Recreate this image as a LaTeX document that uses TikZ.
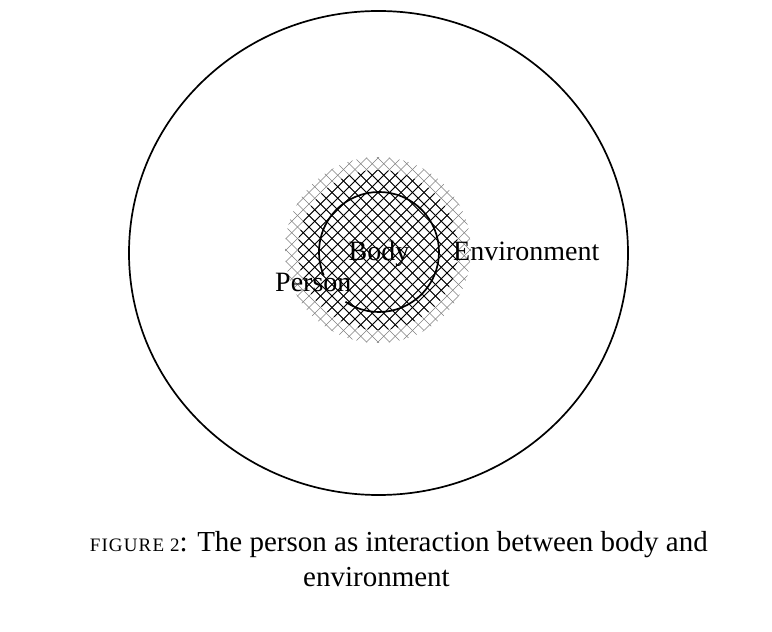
\documentclass[tikz,border=0pt]{standalone}
\usepackage{fontspec}
\setmainfont{Liberation Serif}
\begin{document}
\begin{tikzpicture}[x=1pt,y=1pt,
  lbl/.style={inner sep=0pt, font=\fontsize{28}{30}\selectfont},
  captext/.style={inner sep=0pt, font=\fontsize{29}{31}\selectfont},
  hatchline/.style={line width=0.8pt, black},
  fadeline/.style={line width=0.5pt, black!50},
  ring/.style={line width=1.7pt}]
\useasboundingbox (0,0) rectangle (772,632);
% outer environment
\draw[ring] (378.5,379) ellipse [x radius=249.5, y radius=242];
% faded hatch edge
\begin{scope}
  \clip (378,382) circle (93);
  \foreach \k in {-20,...,20} {
    \draw[fadeline] ({378+\k*11.5-115},{382-115}) -- ({378+\k*11.5+115},{382+115});
    \draw[fadeline] ({378+\k*11.5-115},{382+115}) -- ({378+\k*11.5+115},{382-115});
  }
\end{scope}
% dense hatch
\begin{scope}
  \clip (378,382) circle (80);
  \foreach \k in {-20,...,20} {
    \draw[hatchline] ({378+\k*11.5-115},{382-115}) -- ({378+\k*11.5+115},{382+115});
    \draw[hatchline] ({378+\k*11.5-115},{382+115}) -- ({378+\k*11.5+115},{382-115});
  }
\end{scope}
% body circle with gap at Person
\draw[ring] ({379+60*cos(236)},{380+60*sin(236)}) arc[start angle=236, end angle=563, radius=60];
% labels
\node[lbl, anchor=base] (body) at (379,371) {Body};
\node[lbl, anchor=base west] (env) at (453,371) {Environment};
\node[lbl, anchor=base west] (person) at (275,340) {Person};
% caption
\node[captext, anchor=base east] (cap1) at (708,80) {{\fontsize{19}{21}\selectfont\addfontfeature{LetterSpace=6}FIGURE 2}: The person as interaction between body and};
\node[captext, anchor=base west] (cap2) at (303,45) {environment};
\end{tikzpicture}
\end{document}
